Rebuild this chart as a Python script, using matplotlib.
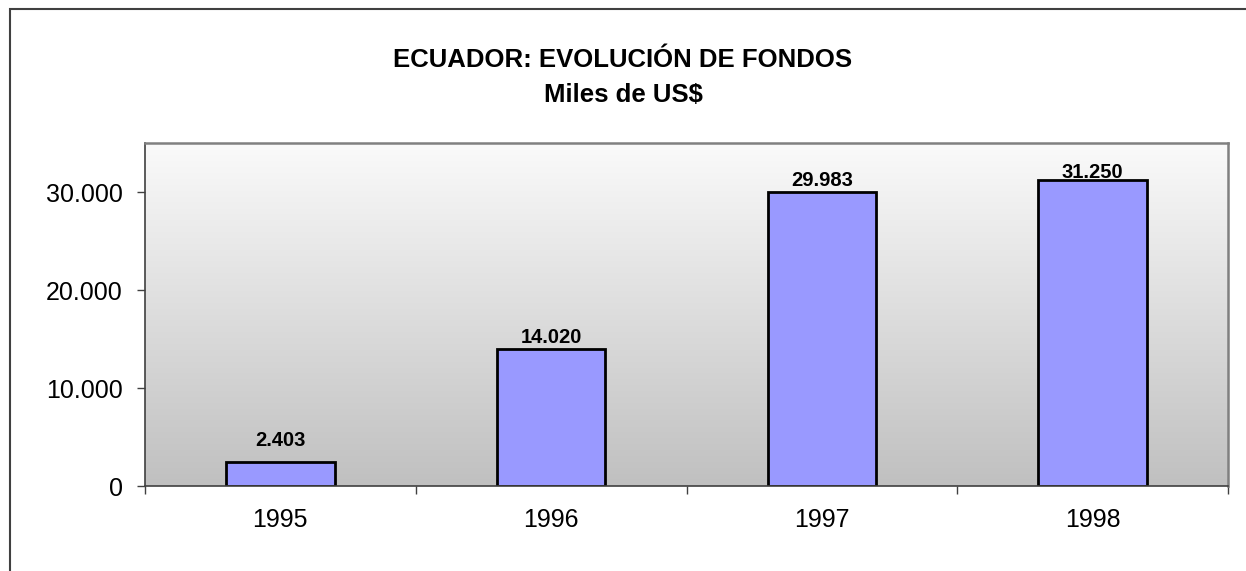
import matplotlib
matplotlib.use("Agg")
import matplotlib.pyplot as plt
import numpy as np
from matplotlib.patches import Rectangle
from matplotlib.colors import LinearSegmentedColormap
from matplotlib.ticker import FuncFormatter, FixedLocator

years = ["1995", "1996", "1997", "1998"]
fondos = [2403, 14020, 29983, 31250]
y_ticks = [0, 10000, 20000, 30000]

TITLE_1 = "ECUADOR: EVOLUCIÓN DE FONDOS"
TITLE_2 = "Miles de US$"
BAR_COLOR = "#9999FF"
# label offsets above each bar (pixels), as Excel placed them
LABEL_PAD = [16, 6, 6, 2]


def miles(v, pos=None):
    return f"{int(v):,}".replace(",", ".")


plt.rcParams["font.family"] = ["Liberation Sans", "DejaVu Sans"]

W, H, DPI = 1246, 571, 100
fig = plt.figure(figsize=(W / DPI, H / DPI), dpi=DPI)

# outer chart border (only top and left visible in the picture)
fig.patches.append(Rectangle((10 / W, -0.05), 1.1, (H - 9) / H + 0.05,
                             transform=fig.transFigure, fill=False,
                             edgecolor="#404040", linewidth=1.5))

ax = fig.add_axes([145 / W, (H - 486) / H, (1228 - 145) / W, (486 - 143) / H])
x = np.arange(len(years))
ax.set_xlim(-0.5, len(years) - 0.5)
ax.set_ylim(0, 35000)

# vertical gray gradient in plot area: gray at bottom, near white at top
grad = np.linspace(0, 1, 256)[:, None]
cmap = LinearSegmentedColormap.from_list("g", ["#C0C0C0", "#FAFAFA"])
ax.imshow(grad, cmap=cmap, aspect="auto", origin="lower",
          extent=[-0.5, len(years) - 0.5, 0, 35000], zorder=0)

bars = ax.bar(x, fondos, width=0.40, color=BAR_COLOR, edgecolor="black",
              linewidth=2.0, zorder=2)

for xi, v, pad in zip(x, fondos, LABEL_PAD):
    ax.annotate(miles(v), (xi, v), xytext=(0, pad * 72 / DPI),
                textcoords="offset points", ha="center", va="baseline",
                fontsize=14.5, fontweight="bold", zorder=3)

ax.yaxis.set_major_locator(FixedLocator(y_ticks))
ax.yaxis.set_major_formatter(FuncFormatter(miles))
ax.tick_params(axis="y", direction="out", length=6, width=1, color="#404040",
               labelsize=18, pad=10)

ax.set_xticks(np.arange(-0.5, len(years)), [""] * (len(years) + 1))
ax.set_xticks(x, years, minor=True)
ax.tick_params(axis="x", which="major", direction="out", length=6, width=1,
               color="#404040")
ax.tick_params(axis="x", which="minor", length=0, labelsize=18, pad=16)

for s in ["left", "bottom"]:
    ax.spines[s].set_color("#404040")
    ax.spines[s].set_linewidth(1.2)
for s in ["top", "right"]:
    ax.spines[s].set_color("#808080")
    ax.spines[s].set_linewidth(1.8)

fig.text(0.5, (H - 67) / H, TITLE_1, ha="center", va="baseline",
         fontsize=18.5, fontweight="bold")
fig.text(0.5, (H - 102) / H, TITLE_2, ha="center", va="baseline",
         fontsize=18.5, fontweight="bold")

fig.savefig("out.png", dpi=DPI)
